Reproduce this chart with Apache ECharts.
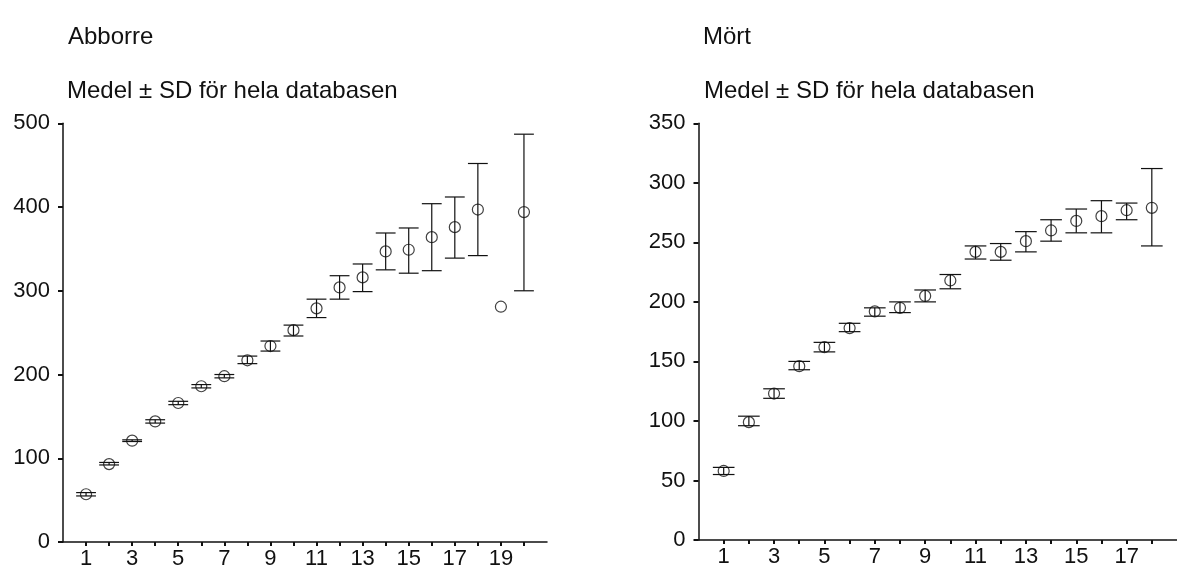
<!DOCTYPE html>
<html>
<head>
<meta charset="utf-8">
<script src="https://cdn.jsdelivr.net/npm/echarts@6/dist/echarts.min.js"></script>
<style>
html,body{margin:0;padding:0;background:#fff;}
#c{width:1177px;height:570px;}
</style>
</head>
<body>
<div id="c"></div>
<script>
// Abborre (perch): age class 1..20, mean and ± SD limits
const abborreAge  = [1,2,3,4,5,6,7,8,9,10,11,12,13,14,15,16,17,18,19,20];
const abborreMean = [57,93,121,144,166,186,198,217,234,253,279,304,316,347,349,364,376,397,281,394];
const abborreLow  = [55,92,120,142,164,184,196,213,228,246,268,290,299,325,321,324,339,342,null,300];
const abborreHigh = [59,95,122,146,168,188,200,222,240,259,290,318,332,369,375,404,412,452,null,487];

// Mört (roach): age class 1..18
const mortAge  = [1,2,3,4,5,6,7,8,9,10,11,12,13,14,15,16,17,18];
const mortMean = [58,99,123,146,162,178,192,195,205,218,242,242,251,260,268,272,277,279];
const mortLow  = [55,96,119,143,158,175,188,191,200,211,236,235,242,251,258,258,269,247];
const mortHigh = [61,104,127,150,166,182,195,200,210,223,247,249,259,269,278,285,283,312];

const leftTicksX   = [1,2,3,4,5,6,7,8,9,10,11,12,13,14,15,16,17,18,19,20];
const leftLabelsX  = [1,3,5,7,9,11,13,15,17,19];
const rightTicksX  = [1,2,3,4,5,6,7,8,9,10,11,12,13,14,15,16,17,18];
const rightLabelsX = [1,3,5,7,9,11,13,15,17];
const leftTicksY   = [0,100,200,300,400,500];
const rightTicksY  = [0,50,100,150,200,250,300,350];

const FONT = '"Liberation Sans", Arial, sans-serif';

function pairs(xs, ys){ return xs.map((x,i)=>[x, ys[i]]); }
function errData(xs, lo, hi){
  const out=[];
  xs.forEach((x,i)=>{ if(lo[i]!=null && hi[i]!=null) out.push([x, lo[i], hi[i]]); });
  return out;
}
function errRender(params, api){
  const x = api.value(0);
  const pLo = api.coord([x, api.value(1)]);
  const pHi = api.coord([x, api.value(2)]);
  const half = api.size([1,0])[0]*0.43;
  const st = {stroke:'#111', lineWidth:1.2};
  return {type:'group', children:[
    {type:'line', shape:{x1:pLo[0],y1:pLo[1],x2:pHi[0],y2:pHi[1]}, style:st},
    {type:'line', shape:{x1:pLo[0]-half,y1:pLo[1],x2:pLo[0]+half,y2:pLo[1]}, style:st},
    {type:'line', shape:{x1:pHi[0]-half,y1:pHi[1],x2:pHi[0]+half,y2:pHi[1]}, style:st}
  ]};
}

function xAxis(gi, max, ticks, labels){
  return {
    type:'value', gridIndex:gi, min:0, max:max,
    axisLine:{show:true, onZero:false, lineStyle:{color:'#111', width:1.5}},
    axisTick:{show:true, length:4, inside:false, customValues:ticks, lineStyle:{color:'#111', width:2}},
    axisLabel:{show:true, customValues:labels, color:'#111', fontFamily:FONT, fontSize:22, margin:6},
    splitLine:{show:false}
  };
}
function yAxis(gi, max, interval, ticks){
  return {
    type:'value', gridIndex:gi, min:0, max:max, interval:interval,
    axisLine:{show:true, onZero:false, lineStyle:{color:'#111', width:1.5}},
    axisTick:{show:true, length:5, inside:false, customValues:ticks, lineStyle:{color:'#111', width:2}},
    axisLabel:{show:true, customValues:ticks, color:'#111', fontFamily:FONT, fontSize:22, margin:13},
    splitLine:{show:false}
  };
}

const titleStyle = {color:'#111', fontFamily:FONT, fontSize:24, fontWeight:'normal'};

const option = {
  backgroundColor:'#fff',
  animation:false,
  title:[
    {text:'Abborre', left:63, top:20, textStyle:titleStyle},
    {text:'Medel ± SD för hela databasen', left:62, top:74, textStyle:titleStyle},
    {text:'Mört', left:698, top:20, textStyle:titleStyle},
    {text:'Medel ± SD för hela databasen', left:699, top:74, textStyle:titleStyle}
  ],
  grid:[
    {left:63, top:123.3, width:484, height:420},
    {left:698.5, top:123.3, width:490, height:416.7}
  ],
  xAxis:[ xAxis(0, 21, leftTicksX, leftLabelsX), xAxis(1, 19, rightTicksX, rightLabelsX) ],
  yAxis:[ yAxis(0, 500, 100, leftTicksY), yAxis(1, 350, 50, rightTicksY) ],
  series:[
    {type:'custom', xAxisIndex:0, yAxisIndex:0, renderItem:errRender,
     data:errData(abborreAge, abborreLow, abborreHigh), encode:{x:0, y:[1,2]}, z:2},
    {type:'scatter', xAxisIndex:0, yAxisIndex:0, symbol:'circle', symbolSize:11,
     itemStyle:{color:'rgba(0,0,0,0)', borderColor:'#111', borderWidth:1.2},
     data:pairs(abborreAge, abborreMean), z:3},
    {type:'custom', xAxisIndex:1, yAxisIndex:1, renderItem:errRender,
     data:errData(mortAge, mortLow, mortHigh), encode:{x:0, y:[1,2]}, z:2},
    {type:'scatter', xAxisIndex:1, yAxisIndex:1, symbol:'circle', symbolSize:11,
     itemStyle:{color:'rgba(0,0,0,0)', borderColor:'#111', borderWidth:1.2},
     data:pairs(mortAge, mortMean), z:3}
  ]
};

const chart = echarts.init(document.getElementById('c'), null, {renderer:'canvas'});
chart.setOption(option);
</script>
</body>
</html>
